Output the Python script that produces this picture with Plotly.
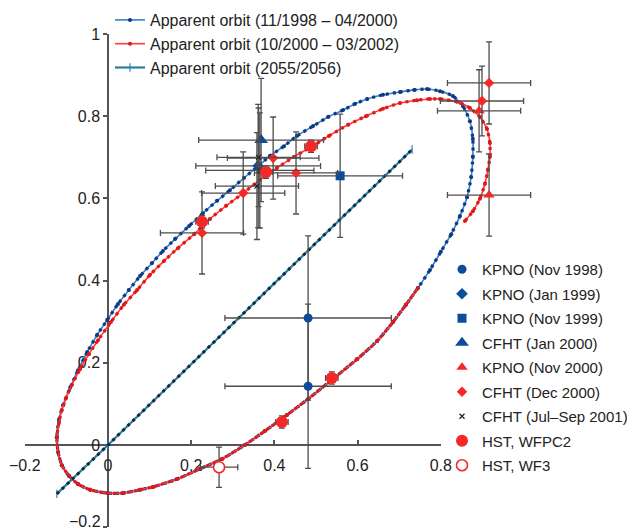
import plotly.graph_objects as go

FONT = "Liberation Sans, Arial, Helvetica, sans-serif"

# ---------------- data ----------------
# Apparent orbit 11/1998 - 04/2000 (blue)
blue_x = [-0.123, -0.118, -0.108, -0.091, -0.072, -0.050, -0.026, -0.002, 0.024, 0.050,
          0.077, 0.106, 0.132, 0.161, 0.195, 0.228, 0.262, 0.293, 0.327, 0.358,
          0.389, 0.423, 0.454, 0.493, 0.529, 0.565, 0.594, 0.623, 0.661, 0.702,
          0.736, 0.767, 0.798, 0.829, 0.853, 0.870, 0.877, 0.877, 0.873, 0.863,
          0.846, 0.825, 0.800, 0.774, 0.745, 0.716, 0.685, 0.647, 0.599, 0.541,
          0.481, 0.430, 0.377, 0.329, 0.274, 0.221, 0.166, 0.108, 0.077, 0.036,
          -0.002, -0.043, -0.072, -0.094, -0.111, -0.120, -0.123]
blue_y = [0.019, 0.061, 0.097, 0.139, 0.182, 0.226, 0.268, 0.304, 0.343, 0.377,
          0.411, 0.443, 0.472, 0.501, 0.533, 0.564, 0.594, 0.620, 0.650, 0.676,
          0.703, 0.727, 0.752, 0.776, 0.798, 0.815, 0.830, 0.842, 0.852, 0.859,
          0.864, 0.866, 0.861, 0.849, 0.825, 0.788, 0.745, 0.701, 0.652, 0.603,
          0.557, 0.513, 0.470, 0.426, 0.382, 0.341, 0.299, 0.253, 0.209, 0.161,
          0.112, 0.073, 0.034, 0.000, -0.034, -0.058, -0.083, -0.102, -0.109, -0.117,
          -0.117, -0.109, -0.095, -0.075, -0.049, -0.017, 0.019]

# Apparent orbit 10/2000 - 03/2002 (red)
red_x = [0.858, 0.877, 0.894, 0.906, 0.913, 0.918, 0.918, 0.911, 0.894, 0.870,
         0.839, 0.798, 0.774, 0.743, 0.702, 0.661, 0.620, 0.577, 0.531, 0.488,
         0.447, 0.406, 0.365, 0.325, 0.284, 0.245, 0.207, 0.168, 0.135, 0.101,
         0.070, 0.038, 0.007, -0.024, -0.046, -0.067, -0.087, -0.101, -0.111, -0.118,
         -0.123, -0.120, -0.111, -0.094, -0.072, -0.043, -0.002, 0.036, 0.077, 0.108,
         0.166, 0.221, 0.274, 0.329, 0.377, 0.430, 0.481, 0.541, 0.599, 0.647,
         0.685, 0.716, 0.745]
red_y = [0.545, 0.569, 0.599, 0.635, 0.669, 0.701, 0.735, 0.769, 0.798, 0.820,
         0.835, 0.842, 0.842, 0.839, 0.832, 0.818, 0.800, 0.779, 0.752, 0.725,
         0.701, 0.674, 0.645, 0.613, 0.582, 0.550, 0.513, 0.479, 0.448, 0.414,
         0.377, 0.341, 0.299, 0.255, 0.221, 0.185, 0.146, 0.114, 0.085, 0.054,
         0.019, -0.017, -0.049, -0.075, -0.095, -0.109, -0.117, -0.117, -0.109, -0.102,
         -0.083, -0.058, -0.034, 0.000, 0.034, 0.073, 0.112, 0.161, 0.209, 0.253,
         0.299, 0.341, 0.382]

# Apparent orbit 2055/2056 (edge-on line)
line_x = [-0.123, 0.0, 0.731]
line_y = [-0.119, 0.0, 0.719]

# Observations: x, y, x-error, y-error
kpno98_x, kpno98_y = [0.481, 0.481], [0.309, 0.143]
kpno98_ex, kpno98_ey = [0.2, 0.2], [0.2, 0.2]

kpno99j_x, kpno99j_y = [0.361], [0.679]
kpno99j_ex, kpno99j_ey = [0.15], [0.15]

kpno99n_x, kpno99n_y = [0.558], [0.655]
kpno99n_ex, kpno99n_ey = [0.15], [0.15]

cfht00_x, cfht00_y = [0.368], [0.742]
cfht00_ex, cfht00_ey = [0.15], [0.15]

kpno00_x, kpno00_y = [0.916, 0.892], [0.608, 0.813]
kpno00_ex, kpno00_ey = [0.1, 0.1], [0.1, 0.1]

cfhtd00_x = [0.916, 0.899, 0.397, 0.452, 0.325, 0.226]
cfhtd00_y = [0.881, 0.837, 0.698, 0.662, 0.613, 0.516]
cfhtd00_ex = [0.1, 0.1, 0.11, 0.1, 0.1, 0.1]
cfhtd00_ey = [0.1, 0.085, 0.1, 0.1, 0.1, 0.1]

cfht01_x, cfht01_y = [0.365, 0.362, 0.358], [0.668, 0.700, 0.630]
cfht01_ex, cfht01_ey = [0.13, 0.1, 0.1], [0.14, 0.12, 0.13]

hst2_x = [0.488, 0.380, 0.226, 0.538, 0.418]
hst2_y = [0.727, 0.664, 0.543, 0.163, 0.056]
hst2_ex = [0.015, 0.015, 0.015, 0.015, 0.015]
hst2_ey = [0.015, 0.015, 0.015, 0.015, 0.015]

hst3_x, hst3_y = [0.267], [-0.054]
hst3_ex, hst3_ey = [0.045], [0.049]

x_ticks = [-0.2, 0, 0.2, 0.4, 0.6, 0.8]
y_ticks = [-0.2, 0, 0.2, 0.4, 0.6, 0.8, 1]
# the lowest y label sits on the page edge; it is written as an annotation
y_ticktext = ["", "0", "0.2", "0.4", "0.6", "0.8", "1"]
y_bottom_label = "\u22120.2"

# ---------------- figure ----------------
# the page body has an 8px margin, so the figure is drawn 8px smaller and
# every layout position is expressed relative to that offset
OFF = 8
W, H = 635 - OFF, 531 - OFF
X0, SX = 108 - OFF, 416      # pixel of x=0, px per unit
Y0, SY = 445 - OFF, 411      # pixel (from top) of y=0, px per unit

BLUE_LINE = "#3a7fc1"
BLUE_DOT = "#0b3a86"
RED_LINE = "#ff3a3a"
RED_DOT = "#e01818"
TEAL_LINE = "#2a7d9c"
TEAL_DOT = "#0c2c40"
NAVY = "#0b4d9b"
RED = "#f52828"
ERR = "#4d4d4d"

fig = go.Figure()

# dummy trace so the visible (axes-only) subplot exists
fig.add_trace(go.Scatter(x=[None], y=[None], xaxis="x", yaxis="y",
                         showlegend=False, hoverinfo="skip"))


def orbit(xs, ys, name, lc, dc):
    fig.add_trace(go.Scatter(
        x=xs, y=ys, xaxis="x2", yaxis="y2", mode="lines+markers", name=name,
        line=dict(color=lc, width=1.6, shape="spline", smoothing=0.6),
        marker=dict(color=dc, size=4), legend="legend"))
    fig.add_trace(go.Scatter(
        x=xs, y=ys, xaxis="x2", yaxis="y2", mode="lines", showlegend=False,
        line=dict(color=dc, width=3.2, dash="3px,4px", shape="spline", smoothing=0.6),
        hoverinfo="skip"))


orbit(blue_x, blue_y, "Apparent orbit (11/1998 \u2013 04/2000)", BLUE_LINE, BLUE_DOT)
orbit(red_x, red_y, "Apparent orbit (10/2000 \u2013 03/2002)", RED_LINE, RED_DOT)

fig.add_trace(go.Scatter(
    x=line_x, y=line_y, xaxis="x2", yaxis="y2", mode="lines+markers",
    name="Apparent orbit (2055/2056)",
    line=dict(color=TEAL_LINE, width=2.2),
    marker=dict(color=BLUE_LINE, size=6, symbol="line-ns", line=dict(width=1.2, color=BLUE_LINE)),
    legend="legend"))
fig.add_trace(go.Scatter(
    x=line_x, y=line_y, xaxis="x2", yaxis="y2", mode="lines", showlegend=False,
    line=dict(color=TEAL_DOT, width=3, dash="3px,4px"), hoverinfo="skip"))


def obs(xs, ys, exs, eys, name, symbol, color, size, open_=False, lw=0):
    marker = dict(symbol=symbol, color=("white" if open_ else color), size=size,
                  line=dict(color=color, width=lw))
    fig.add_trace(go.Scatter(
        x=xs, y=ys, xaxis="x2", yaxis="y2", mode="markers", name=name,
        marker=marker, legend="legend2", legendgroup=name,
        error_x=dict(type="data", array=exs, color=ERR, thickness=1.3, width=3),
        error_y=dict(type="data", array=eys, color=ERR, thickness=1.3, width=3)))


obs(kpno98_x, kpno98_y, kpno98_ex, kpno98_ey, "KPNO (Nov 1998)", "circle", NAVY, 9)
obs(kpno99j_x, kpno99j_y, kpno99j_ex, kpno99j_ey, "KPNO (Jan 1999)", "diamond", NAVY, 9)
obs(kpno99n_x, kpno99n_y, kpno99n_ex, kpno99n_ey, "KPNO (Nov 1999)", "square", NAVY, 9)
obs(cfht00_x, cfht00_y, cfht00_ex, cfht00_ey, "CFHT (Jan 2000)", "triangle-up", NAVY, 12)
obs(kpno00_x, kpno00_y, kpno00_ex, kpno00_ey, "KPNO (Nov 2000)", "triangle-up", RED, 10)
obs(cfhtd00_x, cfhtd00_y, cfhtd00_ex, cfhtd00_ey, "CFHT (Dec 2000)", "diamond", RED, 8)
obs(cfht01_x, cfht01_y, cfht01_ex, cfht01_ey, "CFHT (Jul\u2013Sep 2001)", "x-thin", "#222222", 5, lw=1.2)
obs(hst2_x, hst2_y, hst2_ex, hst2_ey, "HST, WFPC2", "circle", RED, 12)
obs(hst3_x, hst3_y, hst3_ex, hst3_ey, "HST, WF3", "circle", RED, 11, open_=True, lw=1.6)

axis_common = dict(showgrid=False, zeroline=False, showline=True, linecolor="#555555",
                   linewidth=1.5, tickcolor="#555555", tickwidth=1.5, ticklen=4,
                   tickfont=dict(family=FONT, size=16, color="#222222"), anchor="free",
                   fixedrange=True, automargin=False, ticklabeloverflow="allow")

fig.update_layout(
    width=W, height=H, margin=dict(l=0, r=0, t=0, b=0, autoexpand=False),
    paper_bgcolor="white", plot_bgcolor="rgba(0,0,0,0)",
    font=dict(family=FONT, color="#222222"),
    xaxis=dict(domain=[(X0 - 0.2 * SX) / W, (X0 + 0.8 * SX) / W], range=[-0.2, 0.8],
               position=(H - Y0) / H, tickvals=x_ticks, ticks="inside",
               ticklabelstandoff=6, **axis_common),
    yaxis=dict(domain=[max(0.0, (H - (Y0 + 0.2 * SY)) / H), (H - (Y0 - 1.0 * SY)) / H],
               range=[-0.2, 1.0], position=X0 / W, tickmode="array", tickvals=y_ticks,
               ticktext=y_ticktext, ticks="outside", ticklabelstandoff=0, **axis_common),
    xaxis2=dict(domain=[0, 1], range=[-X0 / SX, (W - X0) / SX], anchor="y2", visible=False,
                fixedrange=True),
    yaxis2=dict(domain=[0, 1], range=[(Y0 - H) / SY, Y0 / SY], anchor="x2", visible=False,
                fixedrange=True),
    legend=dict(x=102 / W, y=1 + 5 / H, xanchor="left", yanchor="top",
                font=dict(family=FONT, size=16, color="#222222"), bgcolor="rgba(0,0,0,0)",
                itemwidth=30, tracegroupgap=0),
    legend2=dict(x=434 / W, y=1 - 245 / H, xanchor="left", yanchor="top",
                 font=dict(family=FONT, size=15, color="#222222"), bgcolor="rgba(0,0,0,0)",
                 itemwidth=30, tracegroupgap=2),
    annotations=[dict(text=y_bottom_label, x=0, xref="x", xanchor="right", xshift=-6,
                      y=0, yref="paper", yanchor="bottom", showarrow=False,
                      font=dict(family=FONT, size=16, color="#222222"), borderpad=0)],
    showlegend=True,
)

fig.write_html("out.html")
